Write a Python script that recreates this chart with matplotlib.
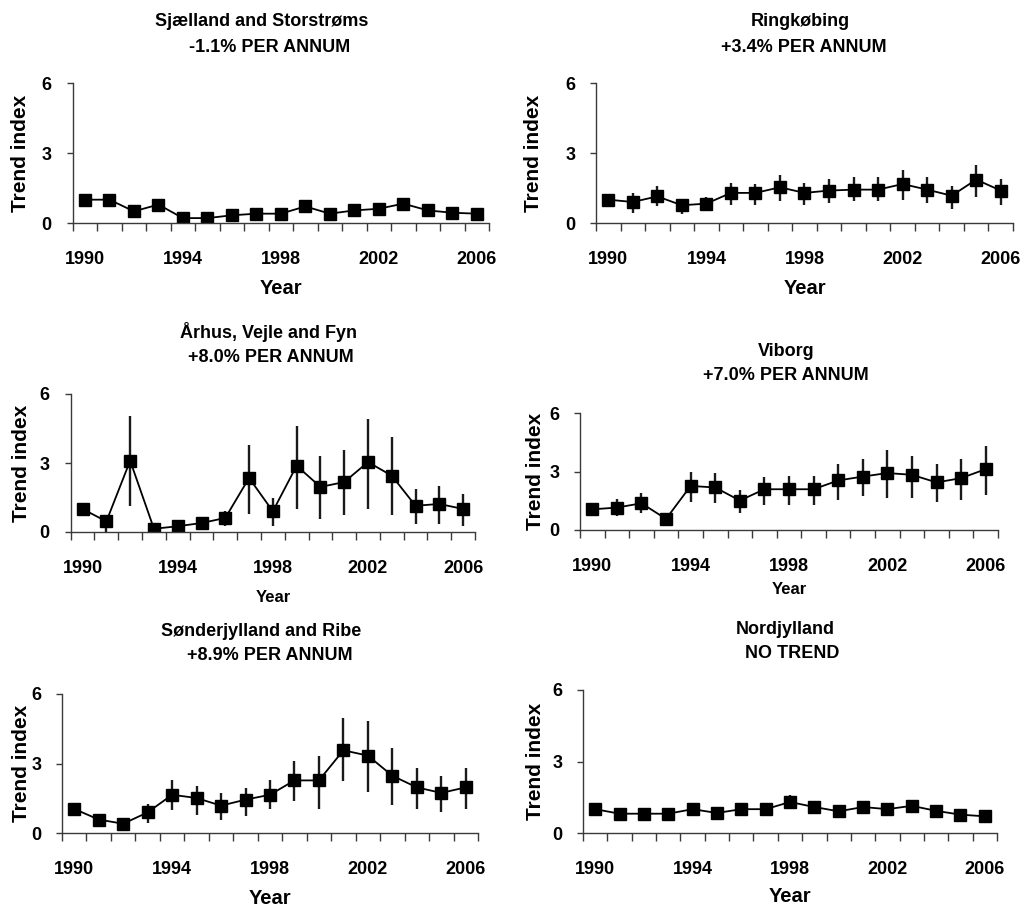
import numpy as np
import matplotlib
matplotlib.use('Agg')
import matplotlib.pyplot as plt
from matplotlib.ticker import FixedLocator

plt.rcParams['font.family'] = ['Liberation Sans', 'DejaVu Sans']
plt.rcParams['font.weight'] = 'bold'

years = list(range(1990, 2007))

# Sjælland and Storstrøms
sjael_val = [1.0, 1.0, 0.5, 0.79, 0.21, 0.21, 0.33, 0.4, 0.4, 0.71, 0.4, 0.54, 0.61, 0.83, 0.54, 0.44, 0.4]
sjael_lo = [1.0, 0.75, 0.35, 0.55, 0.12, 0.12, 0.22, 0.3, 0.3, 0.5, 0.3, 0.4, 0.47, 0.6, 0.4, 0.3, 0.3]
sjael_hi = [1.0, 1.25, 0.7, 1.05, 0.32, 0.32, 0.45, 0.52, 0.52, 0.95, 0.52, 0.7, 0.76, 1.05, 0.7, 0.6, 0.52]

# Ringkøbing
ring_val = [1.0, 0.9, 1.14, 0.76, 0.83, 1.29, 1.29, 1.53, 1.29, 1.39, 1.43, 1.43, 1.67, 1.43, 1.17, 1.86, 1.39]
ring_lo = [1.0, 0.43, 0.71, 0.4, 0.5, 0.79, 0.79, 0.96, 0.79, 0.86, 0.93, 0.93, 1.0, 0.86, 0.61, 1.11, 0.79]
ring_hi = [1.0, 1.29, 1.57, 1.0, 1.11, 1.71, 1.69, 2.04, 1.71, 1.9, 1.97, 1.97, 2.29, 1.97, 1.57, 2.5, 1.9]

# Århus, Vejle and Fyn
arhus_val = [1.0, 0.46, 3.1, 0.14, 0.25, 0.39, 0.61, 2.35, 0.9, 2.88, 1.96, 2.17, 3.04, 2.45, 1.14, 1.22, 1.0]
arhus_lo = [1.0, 0.0, 1.12, 0.08, 0.15, 0.17, 0.25, 0.78, 0.25, 1.0, 0.57, 0.75, 1.0, 0.75, 0.36, 0.36, 0.28]
arhus_hi = [1.0, 0.75, 5.03, 0.2, 0.35, 0.64, 0.9, 3.77, 1.48, 4.59, 3.32, 3.55, 4.91, 4.13, 1.88, 2.0, 1.65]

# Viborg
vib_val = [1.06, 1.15, 1.37, 0.57, 2.26, 2.18, 1.51, 2.09, 2.09, 2.09, 2.54, 2.74, 2.92, 2.83, 2.44, 2.66, 3.12]
vib_lo = [1.06, 0.74, 0.86, 0.26, 1.46, 1.37, 0.89, 1.29, 1.29, 1.29, 1.54, 1.75, 1.63, 1.63, 1.46, 1.54, 1.8]
vib_hi = [1.06, 1.58, 1.89, 0.77, 3.0, 2.92, 2.06, 2.71, 2.78, 2.78, 3.38, 3.65, 4.12, 3.82, 3.38, 3.65, 4.29]

# Sønderjylland and Ribe
sond_val = [1.04, 0.58, 0.4, 0.89, 1.65, 1.51, 1.18, 1.44, 1.65, 2.27, 2.27, 3.57, 3.34, 2.47, 1.97, 1.73, 1.97]
sond_lo = [1.04, 0.29, 0.12, 0.43, 0.98, 0.79, 0.58, 0.75, 1.04, 1.37, 1.05, 2.23, 1.77, 1.19, 1.05, 0.89, 1.05]
sond_hi = [1.04, 0.79, 0.58, 1.27, 2.27, 2.01, 1.73, 1.94, 2.27, 3.12, 3.34, 4.96, 4.82, 3.67, 2.81, 2.45, 2.81]

# Nordjylland
nord_val = [1.0, 0.81, 0.81, 0.81, 1.0, 0.84, 1.0, 1.0, 1.3, 1.09, 0.91, 1.09, 1.0, 1.14, 0.93, 0.77, 0.7]
nord_lo = [1.0, 0.68, 0.68, 0.68, 0.86, 0.7, 0.86, 0.86, 1.05, 0.94, 0.78, 0.94, 0.87, 0.96, 0.8, 0.64, 0.58]
nord_hi = [1.0, 0.95, 0.95, 0.95, 1.15, 0.98, 1.15, 1.15, 1.6, 1.25, 1.05, 1.25, 1.14, 1.32, 1.07, 0.9, 0.83]

titles = [("Sjælland and Storstrøms", "-1.1% PER ANNUM"),
          ("Ringkøbing", "+3.4% PER ANNUM"),
          ("Århus, Vejle and Fyn", "+8.0% PER ANNUM"),
          ("Viborg", "+7.0% PER ANNUM"),
          ("Sønderjylland and Ribe", "+8.9% PER ANNUM"),
          ("Nordjylland", "NO TREND")]

series = [(sjael_val, sjael_lo, sjael_hi), (ring_val, ring_lo, ring_hi),
          (arhus_val, arhus_lo, arhus_hi), (vib_val, vib_lo, vib_hi),
          (sond_val, sond_lo, sond_hi), (nord_val, nord_lo, nord_hi)]

W, H = 1021, 906
# axes boxes in pixels: left, top, right, bottom
boxes = [(72.7, 83, 489, 223), (596, 83, 1013, 223),
         (70.7, 394, 475, 532), (580, 413, 998, 530),
         (62, 694, 478, 833), (583, 690, 997, 833)]
# title line centres (x1, y1, x2, y2)
title_pos = [(262, 22, 270, 47), (800, 22, 804, 47),
             (268, 332, 271, 357), (786, 352, 786, 375),
             (261, 632, 270, 656), (785, 629, 792, 654)]
ylab_x = [20, 533, 22, 535, 22, 535]
xlab_y = [288, 288, 598, 590, 898, 897]
xlab_size = [14.5, 14.5, 12, 12, 14.5, 14.5]

fig = plt.figure(figsize=(W / 100, H / 100), dpi=100)

axc = '#3a3a3a'
for i in range(6):
    l, t, r, b = boxes[i]
    ax = fig.add_axes([l / W, 1 - b / H, (r - l) / W, (b - t) / H])
    val, lo, hi = series[i]
    val = np.array(val)
    yerr = [val - np.array(lo), np.array(hi) - val]
    ax.errorbar(years, val, yerr=yerr, color='black', ecolor='#1a1a1a',
                elinewidth=1.7, capsize=0, lw=1.3, marker='s', ms=8.5,
                mfc='black', mec='black')
    ax.set_xlim(1989.5, 2006.5)
    ax.set_ylim(0, 6)
    for s in ['top', 'right']:
        ax.spines[s].set_visible(False)
    for s in ['left', 'bottom']:
        ax.spines[s].set_color(axc)
        ax.spines[s].set_linewidth(1.0)
    ax.set_yticks([0, 3, 6])
    ax.set_xticks([1990, 1994, 1998, 2002, 2006])
    ax.xaxis.set_minor_locator(FixedLocator(np.arange(1989.5, 2007, 1)))
    ax.tick_params(axis='x', which='major', length=0, pad=20, labelsize=13)
    ax.tick_params(axis='x', which='minor', length=6, width=1.0, color=axc, direction='out')
    ax.tick_params(axis='y', length=4, width=1.0, color=axc, pad=11, labelsize=13)
    for lab in ax.get_xticklabels() + ax.get_yticklabels():
        lab.set_fontweight('bold')

    cy = (t + b) / 2
    fig.text(ylab_x[i] / W, 1 - cy / H, "Trend index", rotation=90, ha='center',
             va='center', fontsize=15, fontweight='bold')
    fig.text((l + r) / 2 / W, 1 - xlab_y[i] / H, "Year", ha='center', va='center',
             fontsize=xlab_size[i], fontweight='bold')
    x1, y1, x2, y2 = title_pos[i]
    fig.text(x1 / W, 1 - y1 / H, titles[i][0], ha='center', va='center',
             fontsize=13, fontweight='bold')
    fig.text(x2 / W, 1 - y2 / H, titles[i][1], ha='center', va='center',
             fontsize=13, fontweight='bold')

fig.savefig('out.png', dpi=100)
